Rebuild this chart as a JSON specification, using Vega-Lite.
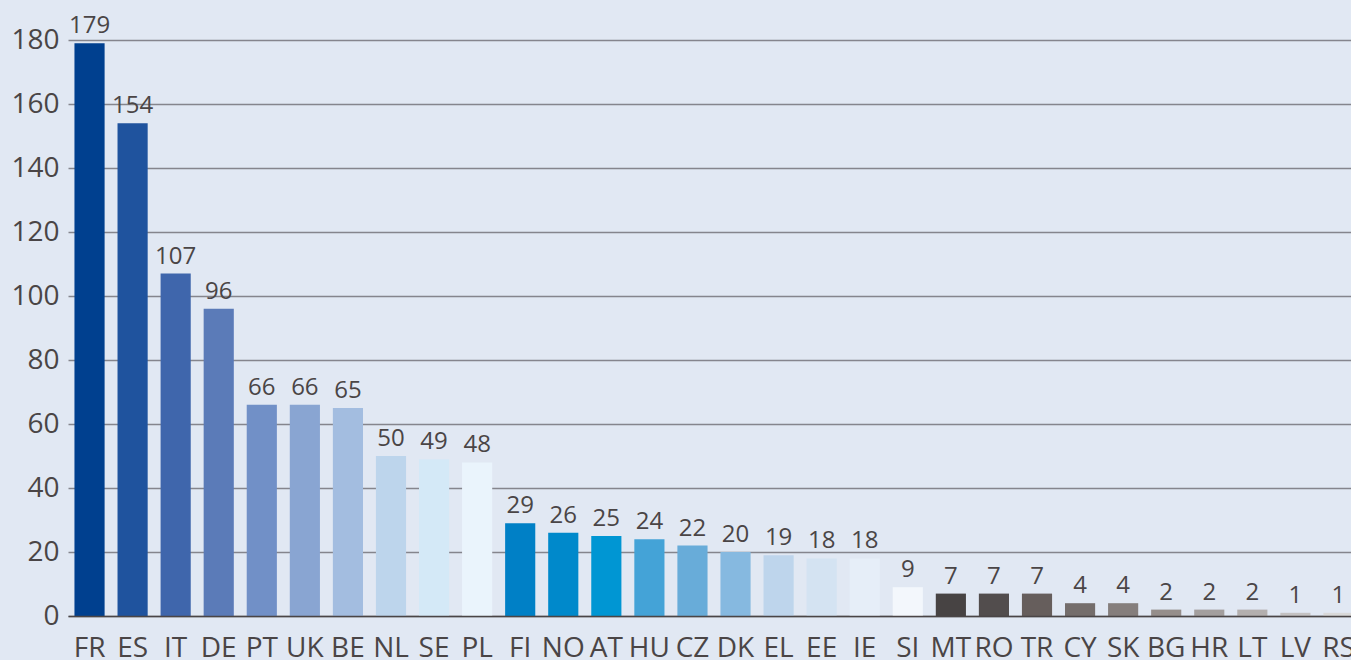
{
  "$schema": "https://vega.github.io/schema/vega-lite/v6.json",
  "autosize": "none",
  "width": 1292,
  "height": 576,
  "padding": {"left": 68, "top": 40, "right": 0, "bottom": 44},
  "background": "#e1e8f3",
  "config": {
    "view": {"stroke": null},
    "font": "Open Sans"
  },
  "data": {
    "values": [
      {"country": "FR", "value": 179},
      {"country": "ES", "value": 154},
      {"country": "IT", "value": 107},
      {"country": "DE", "value": 96},
      {"country": "PT", "value": 66},
      {"country": "UK", "value": 66},
      {"country": "BE", "value": 65},
      {"country": "NL", "value": 50},
      {"country": "SE", "value": 49},
      {"country": "PL", "value": 48},
      {"country": "FI", "value": 29},
      {"country": "NO", "value": 26},
      {"country": "AT", "value": 25},
      {"country": "HU", "value": 24},
      {"country": "CZ", "value": 22},
      {"country": "DK", "value": 20},
      {"country": "EL", "value": 19},
      {"country": "EE", "value": 18},
      {"country": "IE", "value": 18},
      {"country": "SI", "value": 9},
      {"country": "MT", "value": 7},
      {"country": "RO", "value": 7},
      {"country": "TR", "value": 7},
      {"country": "CY", "value": 4},
      {"country": "SK", "value": 4},
      {"country": "BG", "value": 2},
      {"country": "HR", "value": 2},
      {"country": "LT", "value": 2},
      {"country": "LV", "value": 1},
      {"country": "RS", "value": 1}
    ]
  },
  "encoding": {
    "x": {
      "field": "country",
      "type": "nominal",
      "sort": null,
      "scale": {"paddingInner": 0.3, "paddingOuter": 0.15},
      "axis": {
        "title": null,
        "labelAngle": 0,
        "ticks": false,
        "domain": true,
        "domainColor": "#4a4546",
        "domainWidth": 1.5,
        "labelFont": "Open Sans",
        "labelFontSize": 28,
        "labelColor": "#4a4546",
        "labelPadding": 18,
        "zindex": 1
      }
    },
    "y": {
      "field": "value",
      "type": "quantitative",
      "scale": {"domain": [0, 180], "nice": false},
      "axis": {
        "title": null,
        "values": [0, 20, 40, 60, 80, 100, 120, 140, 160, 180],
        "ticks": false,
        "domain": false,
        "grid": true,
        "gridColor": "#85858d",
        "gridWidth": 1.5,
        "labelFont": "Open Sans",
        "labelFontSize": 28,
        "labelColor": "#4a4546",
        "labelPadding": 9,
        "zindex": 0
      }
    }
  },
  "layer": [
    {
      "mark": {"type": "bar"},
      "encoding": {
        "color": {
          "field": "country",
          "type": "nominal",
          "legend": null,
          "scale": {
            "domain": ["FR","ES","IT","DE","PT","UK","BE","NL","SE","PL","FI","NO","AT","HU","CZ","DK","EL","EE","IE","SI","MT","RO","TR","CY","SK","BG","HR","LT","LV","RS"],
            "range": ["#00408f","#1f539e","#3f66ac","#5b7bb8","#7190c7","#89a5d2","#a3bde0","#bdd5ec","#d4e9f7","#eaf4fc","#0080c6","#0089cb","#0096d3","#44a3d7","#68acd9","#86b9e0","#bed5ec","#d4e3f2","#e6eef8","#f3f7fc","#474343","#524d4d","#665e5c","#746d6b","#857e7c","#958e8b","#a39f9e","#b3afae","#c4c2c2","#d9d9d9"]
          }
        }
      }
    },
    {
      "mark": {"type": "text", "baseline": "alphabetic", "dy": -10, "fontSize": 24, "font": "Open Sans", "color": "#4a4546"},
      "encoding": {"text": {"field": "value", "type": "quantitative"}}
    }
  ]
}
